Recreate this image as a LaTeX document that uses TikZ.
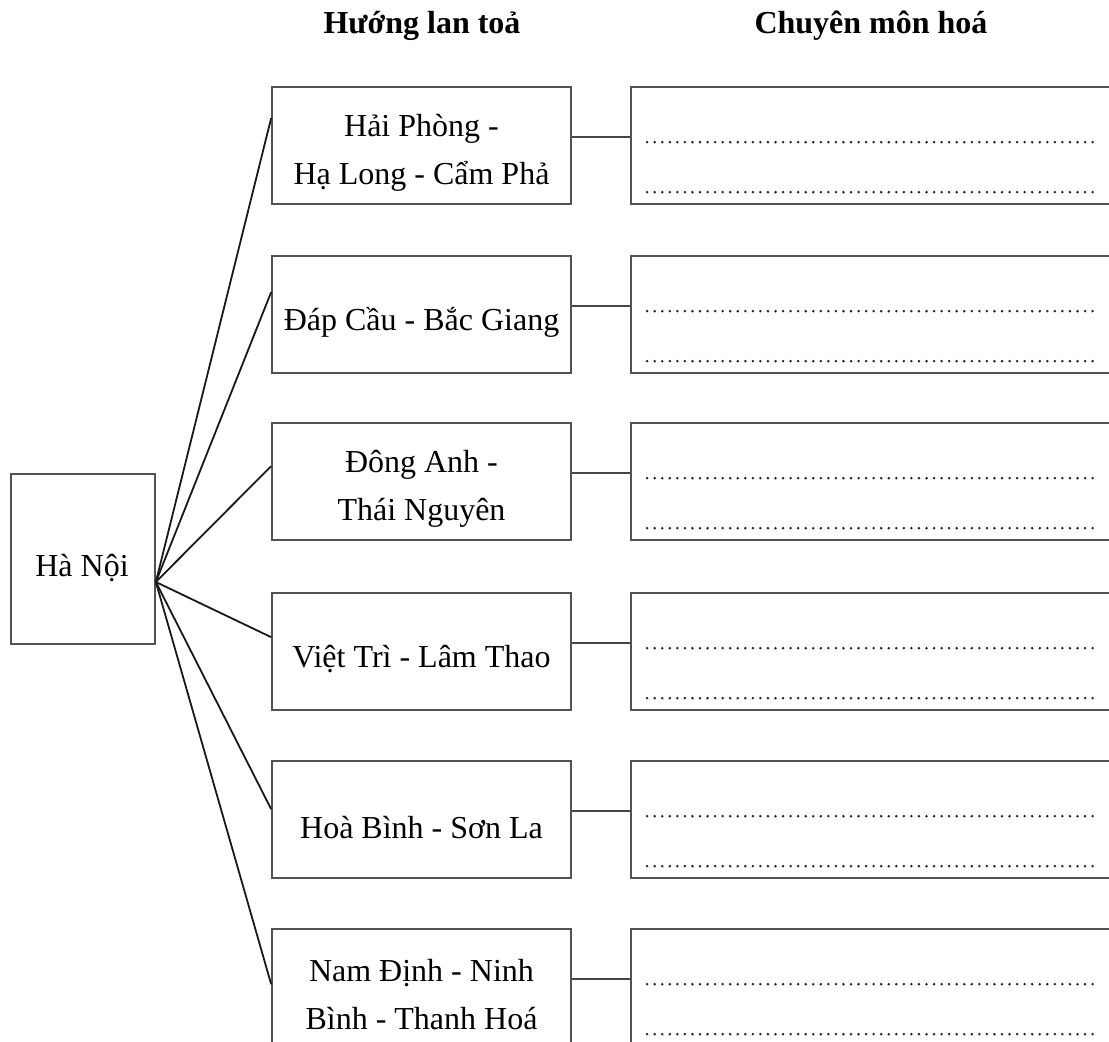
\documentclass[tikz,border=0pt]{standalone}
\usepackage{fontspec}
\setmainfont{Liberation Serif}
\usetikzlibrary{calc}
\tikzset{
  box/.style={draw=black!68, line width=1.7pt, inner sep=0pt, rectangle},
  lbox/.style={box, minimum width=299pt, minimum height=117pt},
  rbox/.style={box, minimum width=520pt, minimum height=117pt},
  hbox/.style={box, minimum width=144pt, minimum height=170pt},
  txt/.style={font=\fontsize{32}{48}\selectfont, align=center, inner sep=0pt},
  head/.style={font=\fontsize{32}{36}\selectfont\bfseries, anchor=base, inner sep=0pt},
  fan/.style={draw=black!90, line width=1.8pt},
  link/.style={draw=black!72, line width=1.6pt},
  dots/.style={draw=black!85, line width=2.8pt, line cap=round, dash pattern=on 0pt off 7.55pt}
}
\begin{document}
\begin{tikzpicture}[x=1pt,y=-1pt]
\useasboundingbox (0,0) rectangle (1109,1042);
\clip (0,0) rectangle (1109,1042);
\fill[white] (0,0) rectangle (1109,1042);

\node[head] (h1) at (422,33) {Hướng lan toả};
\node[head] (h2) at (871,33) {Chuyên môn hoá};

\node[hbox] (HN) at (83,559) {};
\node[txt, anchor=base] (HNt) at (82,576) {Hà Nội};
\coordinate (hub) at ($(HN.east)+(0,23)$);

\foreach \i/\t in {1/87,2/256,3/423,4/593,5/761,6/929}{
  \node[lbox] (L\i) at (421.5,\t+58.5) {};
  \node[rbox] (R\i) at (891,\t+58.5) {};
  \draw[link] ($(L\i.north east)+(0,51)$) -- ($(R\i.north west)+(0,51)$);
  \draw[dots] ($(R\i.north west)+(17,56)$) -- ++(452,0);
  \draw[dots] ($(R\i.north west)+(17,106)$) -- ++(452,0);
}

\node[txt] (T1) at ($(L1.center)+(0,7)$) {Hải Phòng -\\Hạ Long - Cẩm Phả};
\node[txt] (T2) at ($(L2.center)+(0,8)$) {Đáp Cầu - Bắc Giang};
\node[txt] (T3) at ($(L3.center)+(0,7)$) {Đông Anh -\\Thái Nguyên};
\node[txt] (T4) at ($(L4.center)+(0,8)$) {Việt Trì - Lâm Thao};
\node[txt] (T5) at ($(L5.center)+(0,8)$) {Hoà Bình - Sơn La};
\node[txt] (T6) at ($(L6.center)+(0,7)$) {Nam Định - Ninh\\Bình - Thanh Hoá};

\foreach \i/\o in {1/32,2/37,3/44,4/45,5/49,6/56}{
  \draw[fan] (hub) -- ($(L\i.north west)+(0,\o)$);
}
\end{tikzpicture}
\end{document}
